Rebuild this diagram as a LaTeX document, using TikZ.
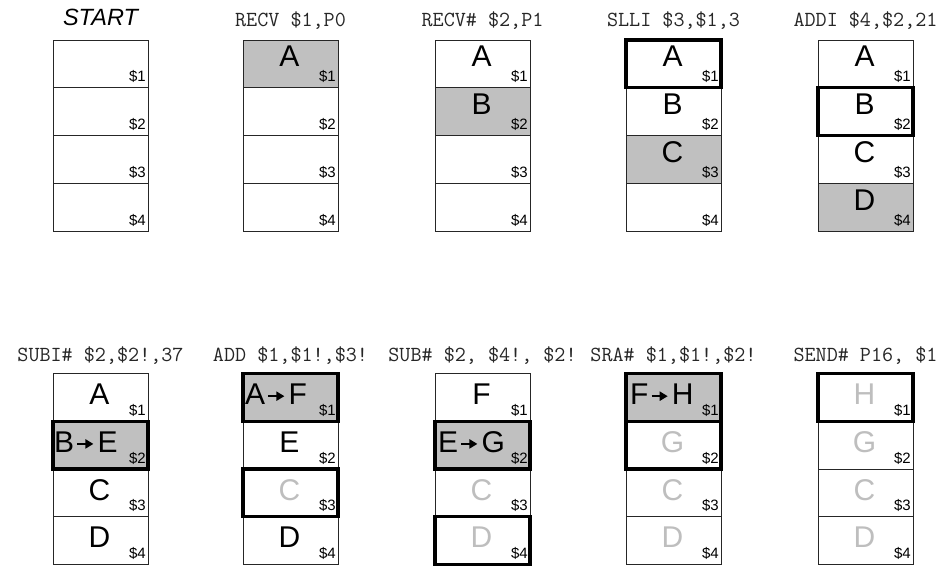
\documentclass[tikz,border=0pt]{standalone}
\usepackage{fontspec}
\setmainfont{Liberation Sans}
\usepackage{tikz}
\usetikzlibrary{positioning,arrows.meta}
\definecolor{regfill}{HTML}{C0C0C0}
\definecolor{stalegray}{HTML}{BEBEBE}

\begin{document}
\begin{tikzpicture}[
  x=1pt, y=-1pt,
  cell/.style={draw=black!85, line width=0.8pt, minimum width=95pt, minimum height=47.75pt, inner sep=0pt, outer sep=0pt},
  hot/.style={draw=black, line width=3.4pt},
  reg/.style={font=\fontsize{15}{16}\selectfont, inner sep=0pt, anchor=base east},
  val/.style={font=\fontsize{30}{32}\selectfont, inner sep=0pt, anchor=base},
  stale/.style={val, text=stalegray},
  head/.style={font=\ttfamily\fontsize{21.5}{23}\selectfont, text=black!85, inner sep=0pt, anchor=base},
  starthead/.style={font=\itshape\fontsize{23.5}{25}\selectfont, inner sep=0pt, anchor=base},
  chg/.style={-{Triangle[length=8pt,width=9pt]}, line width=2pt, shorten <=3pt, shorten >=4pt}
]
\useasboundingbox (0,0) rectangle (940,567);

% register columns
\foreach \p/\x/\y in {1/100.5/40, 2/290.5/40, 3/482.5/40, 4/673.5/40, 5/865.5/40,
                      6/100.5/373.5, 7/290.5/373.5, 8/482.5/373.5, 9/673.5/373.5, 10/865.5/373.5}
  \foreach \r in {1,...,4}
    \node[cell] (p\p-\r) at (\x, {\y+47.75*(\r-0.5)}) {};

% written registers
\foreach \c in {2-1, 3-2, 4-3, 5-4, 6-2, 7-1, 8-2, 9-1}
  \node[cell, fill=regfill] at (p\c) {};

% operand registers
\foreach \c in {4-1, 5-2, 6-2, 7-1, 7-3, 8-2, 8-4, 9-1, 9-2, 10-1}
  \draw[hot] (p\c.north west) rectangle (p\c.south east);

% instruction headings
\node[starthead] (t1) at (100.5, 26) {START};
\node[head] (t2) at (290.5, 27) {RECV \$1,P0};
\node[head] (t3) at (482.5, 27) {RECV\# \$2,P1};
\node[head] (t4) at (673.5, 27) {SLLI \$3,\$1,3};
\node[head] (t5) at (865.5, 27) {ADDI \$4,\$2,21};
\node[head] (t6) at (100.5, 361) {SUBI\# \$2,\$2!,37};
\node[head] (t7) at (290.5, 361) {ADD \$1,\$1!,\$3!};
\node[head] (t8) at (482.5, 361) {SUB\# \$2, \$4!, \$2!};
\node[head] (t9) at (673.5, 361) {SRA\# \$1,\$1!,\$2!};
\node[head] (t10) at (865.5, 361) {SEND\# P16, \$1};

% register contents
\foreach \c/\t/\s in {2-1/A/val, 3-1/A/val, 3-2/B/val, 4-1/A/val, 4-2/B/val, 4-3/C/val,
                      5-1/A/val, 5-2/B/val, 5-3/C/val, 5-4/D/val}
  \node[\s] (p\c-v) at ([xshift=-1pt, yshift=-27pt]p\c.north) {\t};
\foreach \c/\t/\s in {6-1/A/val, 6-3/C/val, 6-4/D/val, 7-2/E/val, 7-3/C/stale, 7-4/D/val,
                      8-1/F/val, 8-3/C/stale, 8-4/D/stale, 9-2/G/stale, 9-3/C/stale, 9-4/D/stale,
                      10-1/H/stale, 10-2/G/stale, 10-3/C/stale, 10-4/D/stale}
  \node[\s] (p\c-v) at ([xshift=-1pt, yshift=-31pt]p\c.north) {\t};

% overwritten registers
\node[val, anchor=base west] (p6-2-o) at ([xshift=1pt, yshift=-31pt]p6-2.north west) {B};
\node[val, right=23pt of p6-2-o] (p6-2-n) {E};
\node[val, anchor=base west] (p7-1-o) at ([xshift=2pt, yshift=-31pt]p7-1.north west) {A};
\node[val, right=23pt of p7-1-o] (p7-1-n) {F};
\node[val, anchor=base west] (p8-2-o) at ([xshift=3pt, yshift=-31pt]p8-2.north west) {E};
\node[val, right=23pt of p8-2-o] (p8-2-n) {G};
\node[val, anchor=base west] (p9-1-o) at ([xshift=4pt, yshift=-31pt]p9-1.north west) {F};
\node[val, right=23pt of p9-1-o] (p9-1-n) {H};
\foreach \c in {6-2, 7-1, 8-2, 9-1}
  \draw[chg] ([yshift=-2pt]p\c-o.east) -- ([yshift=-2pt]p\c-n.west);

% register names
\foreach \p in {1,...,10}
  \foreach \r in {1,...,4}
    \node[reg] (p\p-\r-n) at ([xshift=-2pt, yshift=6pt]p\p-\r.south east) {\$\r};
\end{tikzpicture}
\end{document}
